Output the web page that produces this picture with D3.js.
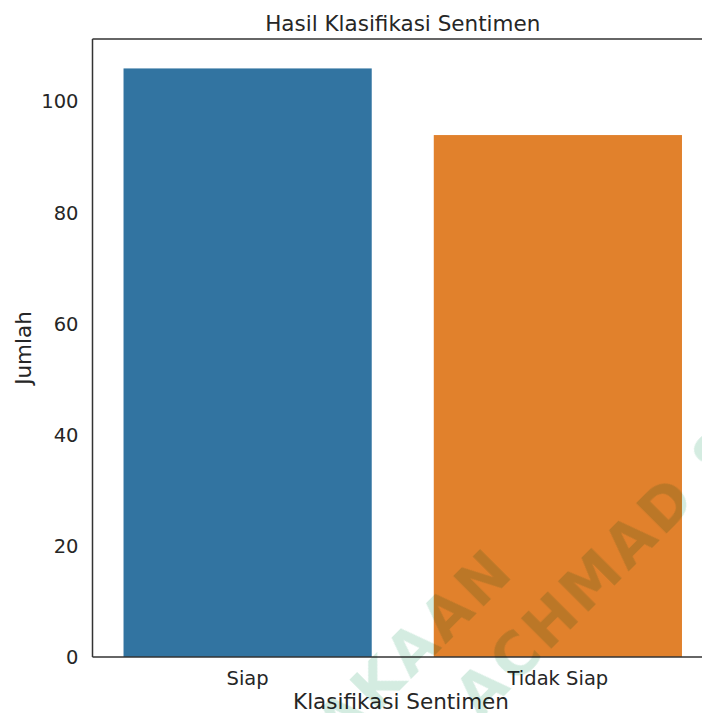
<!DOCTYPE html>
<html>
<head>
<meta charset="utf-8">
<script src="https://cdn.jsdelivr.net/npm/d3@7"></script>
<style>
  html, body { margin: 0; padding: 0; background: #fff; }
  svg { display: block; font-family: "DejaVu Sans", sans-serif; }
</style>
</head>
<body>
<svg id="chart" width="702" height="713"></svg>
<script>
// data
var categories = ["Siap", "Tidak Siap"];
var counts = [106, 94];
var bar_colors = ["#3274a1", "#e1812c"];
var y_ticks = [0, 20, 40, 60, 80, 100];

var width = 702, height = 713;
var margin = { left: 92.5, top: 39, bottom: 657, right: 713 }; // right spine falls off the crop

var svg = d3.select("#chart");

// matplotlib style autoscale: 5% headroom above the tallest bar
var y_max = d3.max(counts) * 1.05;
var y = d3.scaleLinear().domain([0, y_max]).range([margin.bottom, margin.top]);
var x = d3.scaleBand().domain(categories)
    .range([margin.left, margin.right])
    .paddingInner(0.2).paddingOuter(0.1);

// bars
svg.append("g").selectAll("rect").data(categories).enter().append("rect")
    .attr("x", function (d) { return x(d); })
    .attr("width", x.bandwidth())
    .attr("y", function (d, i) { return y(counts[i]); })
    .attr("height", function (d, i) { return y(0) - y(counts[i]); })
    .attr("fill", function (d, i) { return bar_colors[i]; });

// y axis, no tick marks
var y_axis = svg.append("g").attr("transform", `translate(${margin.left},0)`)
    .call(d3.axisLeft(y).tickValues(y_ticks).tickSize(0).tickPadding(14));
y_axis.select(".domain").remove();
y_axis.selectAll("text").attr("font-size", 19.5).attr("fill", "#262626")
    .attr("font-family", "DejaVu Sans");

// x axis
var x_axis = svg.append("g").attr("transform", `translate(0,${margin.bottom})`)
    .call(d3.axisBottom(x).tickSize(0).tickPadding(14));
x_axis.select(".domain").remove();
x_axis.selectAll("text").attr("font-size", 19.5).attr("fill", "#262626")
    .attr("font-family", "DejaVu Sans");

// spines: left, top, bottom
var spine = svg.append("g").attr("stroke", "#333").attr("stroke-width", 1.5).attr("fill", "none");
spine.append("line").attr("x1", margin.left).attr("x2", margin.left)
    .attr("y1", margin.top).attr("y2", margin.bottom);
spine.append("line").attr("x1", margin.left).attr("x2", margin.right)
    .attr("y1", margin.top).attr("y2", margin.top);
spine.append("line").attr("x1", margin.left).attr("x2", margin.right)
    .attr("y1", margin.bottom).attr("y2", margin.bottom);

// titles
svg.append("text").attr("x", (margin.left + margin.right) / 2).attr("y", 31)
    .attr("text-anchor", "middle").attr("font-size", 21.5).attr("fill", "#262626")
    .text("Hasil Klasifikasi Sentimen");
svg.append("text").attr("x", 401).attr("y", 709)
    .attr("text-anchor", "middle").attr("font-size", 21.5).attr("fill", "#262626")
    .text("Klasifikasi Sentimen");
svg.append("text").attr("transform", `translate(31,${(margin.top + margin.bottom) / 2}) rotate(-90)`)
    .attr("text-anchor", "middle").attr("font-size", 21.5).attr("fill", "#262626")
    .text("Jumlah");

// repository watermark lying over the page
var wm = svg.append("g").style("mix-blend-mode", "multiply")
    .attr("fill", "#d4ece1").attr("font-weight", "bold").attr("font-size", 58)
    .attr("letter-spacing", 4);
wm.append("text").attr("transform", "translate(517,573) rotate(-45)")
    .attr("text-anchor", "end").text("PERPUSTAKAAN");
wm.append("text").attr("transform", "translate(480,720) rotate(-45)")
    .attr("text-anchor", "start").text("ACHMAD SIDDIQ");
</script>
</body>
</html>
